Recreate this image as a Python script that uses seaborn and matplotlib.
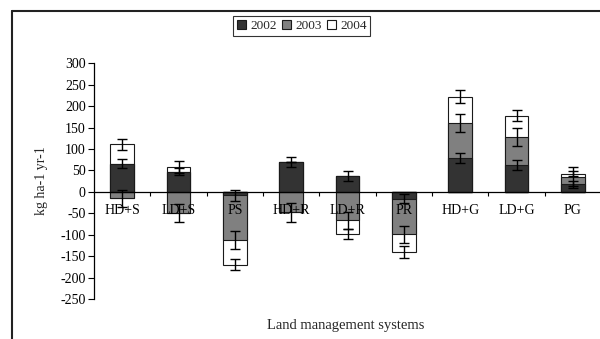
import numpy as np
import matplotlib
matplotlib.use("Agg")
import matplotlib.pyplot as plt
from matplotlib.patches import Patch
import seaborn as sns

# values
categories = ["HD+S", "LD+S", "PS", "HD+R", "LD+R", "PR", "HD+G", "LD+G", "PG"]
years = ["2002", "2003", "2004"]
y2002 = [66, 47, -8, 69, 37, -16, 79, 63, 19]
y2003 = [-15, -50, -105, -48, -66, -83, 81, 65, 15]
y2004 = [45, 10, -57, 0, -32, -41, 62, 50, 8]
err2002 = [11, 8, 13, 12, 11, 11, 11, 12, 6]
err2003 = [20, 21, 21, 23, 20, 20, 21, 22, 24]
err2004 = [13, 14, 13, 0, 12, 14, 15, 13, 6]
y_ticks = list(range(-250, 301, 50))

series = [np.array(y2002), np.array(y2003), np.array(y2004)]
errors = [err2002, err2003, err2004]
colors = ["#333333", "#808080", "#ffffff"]

sns.set_theme(style="ticks")
plt.rcParams["font.family"] = ["Liberation Serif", "DejaVu Serif"]

fig = plt.figure(figsize=(6.0, 3.39), dpi=100)
ax = fig.add_axes([94 / 600, 1 - 299 / 339, 507 / 600, (299 - 63.3) / 339])

# stacked columns: positive and negative parts stack separately (Excel style)
pos_cum = np.cumsum([np.clip(s, 0, None) for s in series], axis=0)
neg_cum = np.cumsum([np.clip(s, None, 0) for s in series], axis=0)

# draw the longest stacks first so the shorter ones sit on top
for k in [2, 1, 0]:
    for cum in (pos_cum, neg_cum):
        sns.barplot(x=categories, y=cum[k], color=colors[k], width=0.42,
                    edgecolor="#1a1a1a", linewidth=0.8, saturation=1,
                    errorbar=None, ax=ax, zorder=2)

# error bars sit at the outer end of each segment
xpos = np.arange(len(categories))
for k in range(3):
    ends = np.where(series[k] >= 0, pos_cum[k], neg_cum[k])
    ax.errorbar(xpos, ends, yerr=errors[k], fmt="none", ecolor="black",
                elinewidth=1.0, capsize=3.5, capthick=1.0, zorder=5)

ax.set_axisbelow(False)
ax.set_ylim(-250, 300)
ax.set_xlim(-0.5, 8.5)
ax.set_yticks(y_ticks)
ax.set_yticklabels([str(t) for t in y_ticks], fontsize=10)
ax.tick_params(axis="y", direction="out", length=4, width=0.8, pad=2, colors="black")

ax.spines["top"].set_visible(False)
ax.spines["right"].set_visible(False)
ax.spines["bottom"].set_position(("data", 0))
ax.spines["bottom"].set_color("black")
ax.spines["bottom"].set_linewidth(0.9)
ax.spines["left"].set_color("black")
ax.spines["left"].set_linewidth(0.9)

ax.set_xticks(xpos)
ax.set_xticklabels(categories, fontsize=10)
ax.tick_params(axis="x", which="major", length=0, pad=9, colors="black")
ax.set_xticks(np.arange(0.5, 8.5, 1.0), minor=True)
ax.tick_params(axis="x", which="minor", direction="out", length=3, width=0.8, color="black")
ax.set_xlabel("")
ax.set_ylabel("")
ax.patch.set_alpha(0)

fig.text(41 / 600, 1 - 181 / 339, "kg ha-1 yr-1", rotation=90, ha="center",
         va="center", fontsize=10)
fig.text(346 / 600, 1 - 325 / 339, "Land management systems", ha="center",
         va="center", fontsize=10.5)

# outer chart-area frame (cut off at the right and bottom)
fig.add_artist(plt.Line2D([12 / 600, 12 / 600], [1 - 11 / 339, 0], transform=fig.transFigure,
                          color="#222222", lw=1.5))
fig.add_artist(plt.Line2D([12 / 600, 1], [1 - 11 / 339, 1 - 11 / 339], transform=fig.transFigure,
                          color="#222222", lw=1.5))

handles = [Patch(facecolor=c, edgecolor="#1a1a1a", linewidth=0.8, label=y)
           for c, y in zip(colors, years)]
leg = fig.legend(handles=handles, loc="center", bbox_to_anchor=(301.7 / 600, 1 - 25.8 / 339),
                 ncol=3, fontsize=9.5, frameon=True, fancybox=False, handlelength=0.7,
                 handleheight=0.7, handletextpad=0.3, columnspacing=0.4, borderpad=0.3,
                 borderaxespad=0)
leg.get_frame().set_edgecolor("black")
leg.get_frame().set_linewidth(0.8)

fig.savefig("out.png", dpi=100)
